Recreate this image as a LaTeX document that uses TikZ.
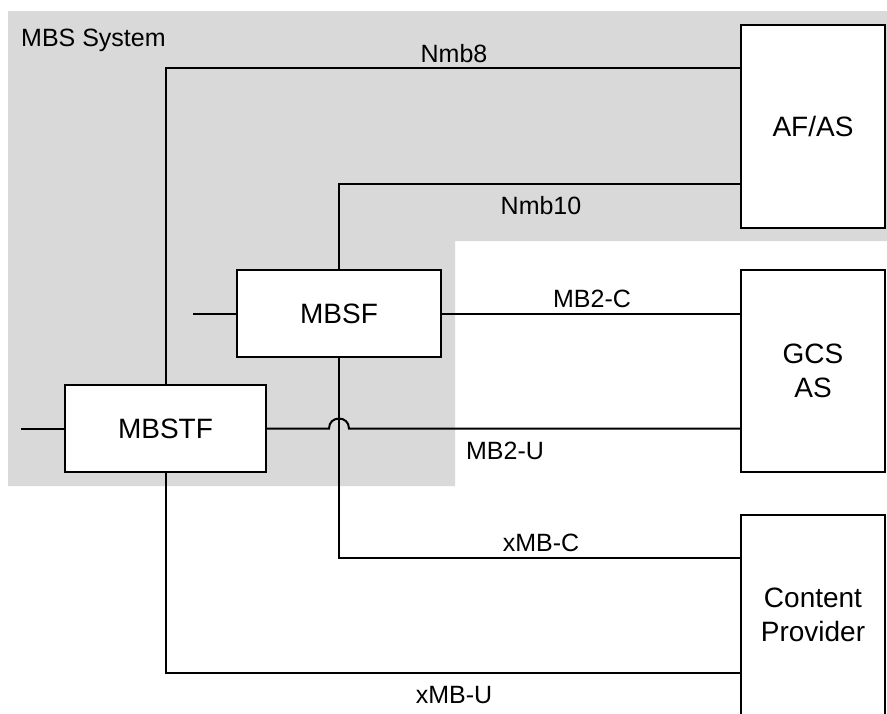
\documentclass[tikz,border=0pt]{standalone}
\usepackage{fontspec}
\setmainfont{Liberation Sans}
\definecolor{sysgrey}{HTML}{D9D9D9}
\begin{document}
\begin{tikzpicture}[x=1pt,y=-1pt,
  box/.style={draw,fill=white,line width=2pt,inner sep=0pt,align=center,
    font=\fontsize{28pt}{34pt}\selectfont},
  lab/.style={anchor=base,inner sep=0pt,font=\fontsize{25pt}{30pt}\selectfont},
  conn/.style={line width=2pt}]
\clip (0,0) rectangle (887,713);
\fill[white] (0,0) rectangle (887,713);
\fill[sysgrey] (8,11) -- (887,11) -- (887,241) -- (455,241) -- (455,486) -- (8,486) -- cycle;
\node[lab,anchor=base west] (sys) at (21,46.5) {MBS System};
% boxes
\node[box,minimum width=144pt,minimum height=203pt] (AFAS) at (813,126.5) {AF/AS};
\node[box,minimum width=144pt,minimum height=202pt] (GCS) at (813,371) {GCS\\AS};
\node[box,minimum width=144pt,minimum height=200pt] (CP) at (813,615) {Content\\Provider};
\node[box,minimum width=204pt,minimum height=87pt] (MBSF) at (339,313.5) {MBSF};
\node[box,minimum width=201pt,minimum height=87pt] (MBSTF) at (165.5,428.5) {MBSTF};
% helper coordinates
\coordinate (y8) at (0,68);
\coordinate (y10) at (0,184);
\coordinate (yc) at (0,558);
\coordinate (yu) at (0,673);
\coordinate (s1) at (21,428.5);
\coordinate (s2) at (193,313.5);
\path (MBSF.south |- MBSTF.east) coordinate (hop);
% connectors
\draw[conn] (MBSTF.north) |- (AFAS.west |- y8);
\draw[conn] (MBSF.north) |- (AFAS.west |- y10);
\draw[conn] (MBSF.east) -- (GCS.west |- MBSF.east);
\draw[conn] (MBSTF.east) -- ([xshift=-10pt]hop)
  .. controls ([xshift=-10pt,yshift=13.3pt]hop) and ([xshift=10pt,yshift=13.3pt]hop) .. ([xshift=10pt]hop)
  -- (GCS.west |- hop);
\draw[conn] (MBSF.south) |- (CP.west |- yc);
\draw[conn] (MBSTF.south) |- (CP.west |- yu);
\draw[conn] (s1) -- (MBSTF.west);
\draw[conn] (s2) -- (MBSF.west);
% labels
\node[lab] (l8) at (454,62) {Nmb8};
\node[lab] (l10) at (541,214) {Nmb10};
\node[lab] (lc2) at (592,307) {MB2-C};
\node[lab] (lu2) at (505,459) {MB2-U};
\node[lab] (lxc) at (541,551) {xMB-C};
\node[lab] (lxu) at (454,703) {xMB-U};
\end{tikzpicture}
\end{document}
